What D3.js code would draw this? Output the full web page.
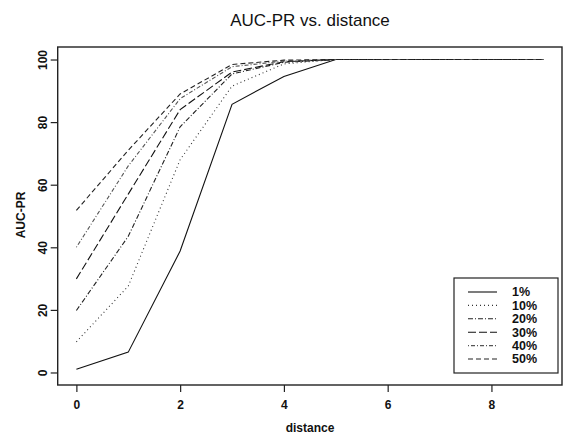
<!DOCTYPE html>
<html>
<head>
<meta charset="utf-8">
<script src="https://cdn.jsdelivr.net/npm/d3@7.9.0/dist/d3.min.js"></script>
<style>
  body { margin: 0; background: #fff; }
  svg text { font-family: "Liberation Sans", Arial, sans-serif; fill: #111; }
</style>
</head>
<body>
<svg id="chart" width="571" height="439"></svg>
<script>
// distances along the x axis
const distances = [0, 1, 2, 3, 4, 5, 6, 7, 8, 9];

// one series per percentage
const seriesLabels = ["1%", "10%", "20%", "30%", "40%", "50%"];
const pct1  = [1, 6.5, 38.8, 85.7, 94.6, 100, 100, 100, 100, 100];
const pct10 = [9.8, 27.6, 68, 91.5, 98.6, 100, 100, 100, 100, 100];
const pct20 = [19.8, 43.5, 78.5, 95.4, 99.1, 100, 100, 100, 100, 100];
const pct30 = [29.9, 57, 84, 96, 99.3, 100, 100, 100, 100, 100];
const pct40 = [40, 66, 87.5, 97.7, 99.5, 100, 100, 100, 100, 100];
const pct50 = [51.8, 71, 89, 98.4, 99.8, 100, 100, 100, 100, 100];
const allSeries = [pct1, pct10, pct20, pct30, pct40, pct50];

const xTicks = [0, 2, 4, 6, 8];
const yTicks = [0, 20, 40, 60, 80, 100];

// line looks, R-style lty
const dashes = [null, "1,3", "5,2,1,2", "8,3", "1,2,4,2", "5,3"];
const strokes = ["#111", "#333", "#222", "#111", "#555", "#222"];

const svg = d3.select("#chart");

const x = d3.scaleLinear().domain([-0.36, 9.36]).range([57.7, 562]);
const y = d3.scaleLinear().domain([-4, 104]).range([385, 47]);

// title
svg.append("text")
    .attr("x", 310).attr("y", 26)
    .attr("text-anchor", "middle")
    .style("font-size", "17px")
    .text("AUC-PR vs. distance");

// plot frame
svg.append("rect")
    .attr("x", x.range()[0]).attr("y", y.range()[1])
    .attr("width", x.range()[1] - x.range()[0])
    .attr("height", y.range()[0] - y.range()[1])
    .attr("fill", "none").attr("stroke", "#222").attr("stroke-width", 1.4);

// x axis
const xAxis = svg.append("g")
    .attr("transform", `translate(0,${y.range()[0]})`)
    .call(d3.axisBottom(x).tickValues(xTicks).tickSize(7).tickPadding(8).tickFormat(d3.format("d")));
xAxis.select(".domain").remove();
xAxis.selectAll("line").attr("stroke", "#222").attr("stroke-width", 1.2);
xAxis.selectAll("text")
    .style("font-size", "12px").style("font-weight", "bold")
    .style("font-family", "Liberation Sans, Arial, sans-serif");

// y axis, labels rotated like R's default
const yAxis = svg.append("g")
    .attr("transform", `translate(${x.range()[0]},0)`)
    .call(d3.axisLeft(y).tickValues(yTicks).tickSize(7).tickFormat(d3.format("d")));
yAxis.select(".domain").remove();
yAxis.selectAll("line").attr("stroke", "#222").attr("stroke-width", 1.2);
yAxis.selectAll("text")
    .attr("x", null).attr("dy", null)
    .attr("transform", "translate(-11,0) rotate(-90)")
    .attr("text-anchor", "middle")
    .style("font-size", "12px").style("font-weight", "bold")
    .style("font-family", "Liberation Sans, Arial, sans-serif");

// axis titles
svg.append("text")
    .attr("x", 310).attr("y", 432)
    .attr("text-anchor", "middle")
    .style("font-size", "12px").style("font-weight", "bold")
    .text("distance");

svg.append("text")
    .attr("transform", "translate(25,215) rotate(-90)")
    .attr("text-anchor", "middle")
    .style("font-size", "12px").style("font-weight", "bold")
    .text("AUC-PR");

// series lines
const line = d3.line()
    .x((d, i) => x(distances[i]))
    .y(d => y(d));

svg.selectAll("path.series")
    .data(allSeries)
    .enter()
    .append("path")
    .attr("class", "series")
    .attr("d", line)
    .attr("fill", "none")
    .attr("stroke", (d, i) => strokes[i])
    .attr("stroke-width", 1.1)
    .attr("stroke-dasharray", (d, i) => dashes[i]);

// legend
const legend = svg.append("g").attr("transform", "translate(454,278)");
legend.append("rect")
    .attr("width", 104).attr("height", 95)
    .attr("fill", "#fff").attr("stroke", "#222").attr("stroke-width", 1.2);

const rows = legend.selectAll("g.row")
    .data(seriesLabels)
    .enter()
    .append("g")
    .attr("class", "row")
    .attr("transform", (d, i) => `translate(0,${14 + i * 13.4})`);

rows.append("line")
    .attr("x1", 14).attr("x2", 43)
    .attr("stroke", (d, i) => strokes[i])
    .attr("stroke-width", 1.1)
    .attr("stroke-dasharray", (d, i) => dashes[i]);

rows.append("text")
    .attr("x", 58).attr("dy", "0.35em")
    .style("font-size", "12.5px").style("font-weight", "bold")
    .text(d => d);
</script>
</body>
</html>
